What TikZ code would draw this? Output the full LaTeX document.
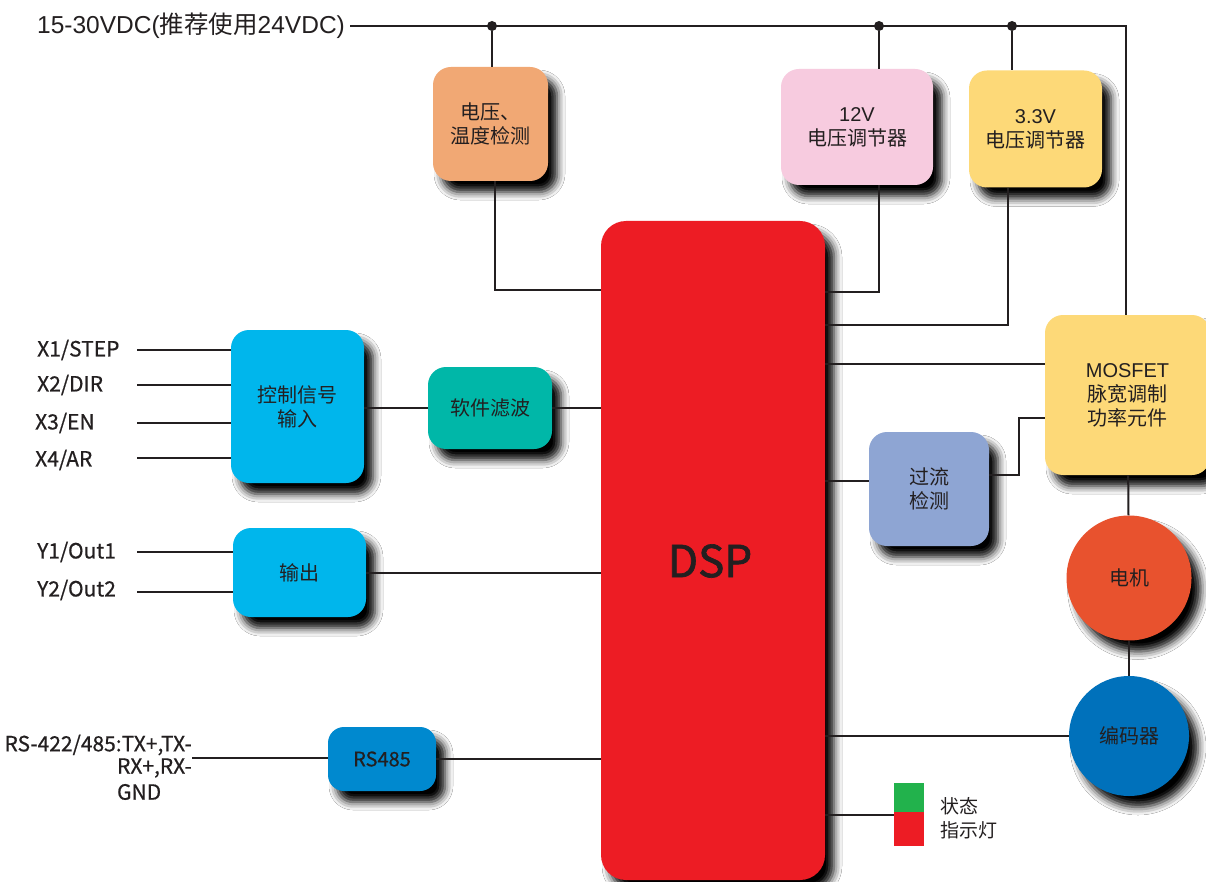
\documentclass[tikz,border=0pt]{standalone}
\usepackage{fontspec}
\setmainfont{Noto Sans CJK SC}
\newfontfamily\ari{Liberation Sans}
\newfontfamily\cjk{Noto Sans CJK SC}
\newfontfamily\cjkb[FakeBold=1.5]{Noto Sans CJK SC}
\newfontfamily\cjkm[FakeBold=0.6]{Noto Sans CJK SC}
\usetikzlibrary{shadows.blur}
\definecolor{txt}{HTML}{231F20}
\definecolor{lc}{HTML}{231F20}
\definecolor{cOrange}{HTML}{F1A874}
\definecolor{cPink}{HTML}{F7CBDF}
\definecolor{cYellow}{HTML}{FDD978}
\definecolor{cCyan}{HTML}{00B6EC}
\definecolor{cTeal}{HTML}{00B7A8}
\definecolor{cGray}{HTML}{8EA5D3}
\definecolor{cMotor}{HTML}{E8522E}
\definecolor{cEnc}{HTML}{0071BB}
\definecolor{cRS}{HTML}{0089CF}
\definecolor{cDSP}{HTML}{ED1C24}
\definecolor{cGreen}{HTML}{22B24C}
\newcommand\fsz[2]{\fontsize{#1}{#2}\selectfont}
\begin{document}
\begin{tikzpicture}[x=1pt,y=-1pt,
  shad/.style={blur shadow={shadow xshift=9pt, shadow yshift=-11pt, shadow blur radius=8pt, shadow opacity=100}},
  box/.style={rectangle, rounded corners=18pt, draw=none, text=txt, align=center, inner sep=0pt, font=\fsz{20}{24}, shad},
  ball/.style={circle, draw=none, text=txt, align=center, inner sep=0pt, font=\fsz{20}{24}, shad},
  lbl/.style={text=txt, inner sep=0pt, font=\cjkm\fsz{21}{24}},
  line/.style={draw=lc, line width=2pt},
  dot/.style={circle, fill=lc, inner sep=0pt, minimum size=10pt},
  led/.style={rectangle, draw=none, inner sep=0pt, minimum width=30pt}
]
\useasboundingbox[fill=white] (0,0) rectangle (1206,882);

% ---- boxes
\node[box, fill=cDSP, rounded corners=25pt, minimum width=224pt, minimum height=659pt] (dsp) at (713,550.5) {};
\node[text=txt, font=\cjkb\fsz{44}{48}, inner sep=0pt] (dsplabel) at (710,561) {DSP};

\node[box, fill=cOrange, minimum width=115pt, minimum height=114pt] (volt) at (490.5,124) {电压、\\温度检测};
\node[box, fill=cPink, minimum width=152pt, minimum height=116pt] (reg12) at (857,127) {{\ari 12V}\\电压调节器};
\node[box, fill=cYellow, minimum width=133pt, minimum height=117pt] (reg33) at (1035.5,129) {{\ari 3.3V}\\电压调节器};
\node[box, fill=cYellow, minimum width=165pt, minimum height=160pt] (mosfet) at (1127.5,395) {{\ari MOSFET}\\脉宽调制\\功率元件};
\node[box, fill=cCyan, minimum width=133pt, minimum height=153pt] (ctrl) at (297.5,406.5) {控制信号\\输入};
\node[box, fill=cTeal, minimum width=124pt, minimum height=82pt] (filt) at (490,408) {软件滤波};
\node[box, fill=cCyan, minimum width=133pt, minimum height=89pt] (outb) at (299.5,572.5) {输出};
\node[box, fill=cRS, rounded corners=16pt, minimum width=108pt, minimum height=64pt] (rs) at (382,759) {\cjkm RS485};
\node[box, fill=cGray, minimum width=120pt, minimum height=114pt] (oc) at (929,489) {过流\\检测};
\node[ball, fill=cMotor, minimum size=125pt] (motor) at (1129,578) {电机};
\node[ball, fill=cEnc, minimum size=120pt] (enc) at (1129,736) {编码器};

\node[led, fill=cGreen, minimum height=29pt] (ledG) at (909,797.5) {};
\node[led, fill=cDSP, minimum height=34pt] (ledR) at (909,829) {};
\node[lbl, font=\fsz{19}{24}, anchor=west, align=left] (stat) at (940,818) {状态\\指示灯};

% ---- labels
\node[lbl, anchor=west, font=\ari\fsz{24.5}{28}, inner xsep=5pt] (vin) at (32,26) {15-30VDC({\cjk 推荐使用}24VDC)};
\node[lbl, anchor=west] (x1) at (37,350) {X1/STEP};
\node[lbl, anchor=west] (x2) at (37,385) {X2/DIR};
\node[lbl, anchor=west] (x3) at (35,423) {X3/EN};
\node[lbl, anchor=west] (x4) at (35,460) {X4/AR};
\node[lbl, anchor=west] (y1) at (37,552) {Y1/Out1};
\node[lbl, anchor=west] (y2) at (37,590) {Y2/Out2};
\node[lbl, anchor=east] (rsa) at (192,745) {RS-422/485:TX+,TX-};
\node[lbl, anchor=east] (rsb) at (192,768) {RX+,RX-};
\node[lbl, anchor=west] (rsc) at (rsb.west |- 0,792) {GND};

% ---- free ends
\coordinate (inA) at (137,350);
\coordinate (inB) at (137,385);
\coordinate (inC) at (137,423);
\coordinate (inD) at (137,458);
\coordinate (outA) at (137,552);
\coordinate (outB) at (137,592);
\coordinate (rsin) at (192,758);
\coordinate (busR) at (1126,26);

\node[dot] (d1) at (492,26) {};
\node[dot] (d2) at (879,26) {};
\node[dot] (d3) at (1012,26) {};

% ---- connectors
\draw[line] (vin) -- (busR) -- (busR |- mosfet.north);
\draw[line] (d1) -- (d1 |- volt.north);
\draw[line] (volt.south -| 495,0) -- (495,290) -- (dsp.west |- 0,290);
\draw[line] (d2) -- (d2 |- reg12.north);
\draw[line] (reg12.south -| d2) -- (d2 |- 0,292) -- (dsp.east |- 0,292);
\draw[line] (d3) -- (d3 |- reg33.north);
\draw[line] (reg33.south -| 1008,0) -- (1008,325) -- (dsp.east |- 0,325);
\draw[line] (dsp.east |- 0,364) -- (mosfet.west |- 0,364);
\draw[line] (dsp.east |- 0,481) -- (oc.west |- 0,481);
\draw[line] (oc.east |- 0,475) -- (1019,475) -- (1019,418) -- (mosfet.west |- 0,418);
\draw[line] (mosfet) -- (motor);
\draw[line] (motor) -- (enc);
\draw[line] (enc -| dsp.east) -- (enc);
\draw[line] (dsp.east |- 0,815) -- (ledR.west |- 0,815);

\draw[line] (inA) -- (inA -| ctrl.west);
\draw[line] (inB) -- (inB -| ctrl.west);
\draw[line] (inC) -- (inC -| ctrl.west);
\draw[line] (inD) -- (inD -| ctrl.west);
\draw[line] (filt.west -| ctrl.east) -- (filt.west);
\draw[line] (filt) -- (filt -| dsp.west);
\draw[line] (outA) -- (outA -| outb.west);
\draw[line] (outB) -- (outB -| outb.west);
\draw[line] (outb) -- (outb -| dsp.west);
\draw[line] (rsin) -- (rsin -| rs.west);
\draw[line] (rs) -- (rs -| dsp.west);
\end{tikzpicture}
\end{document}
